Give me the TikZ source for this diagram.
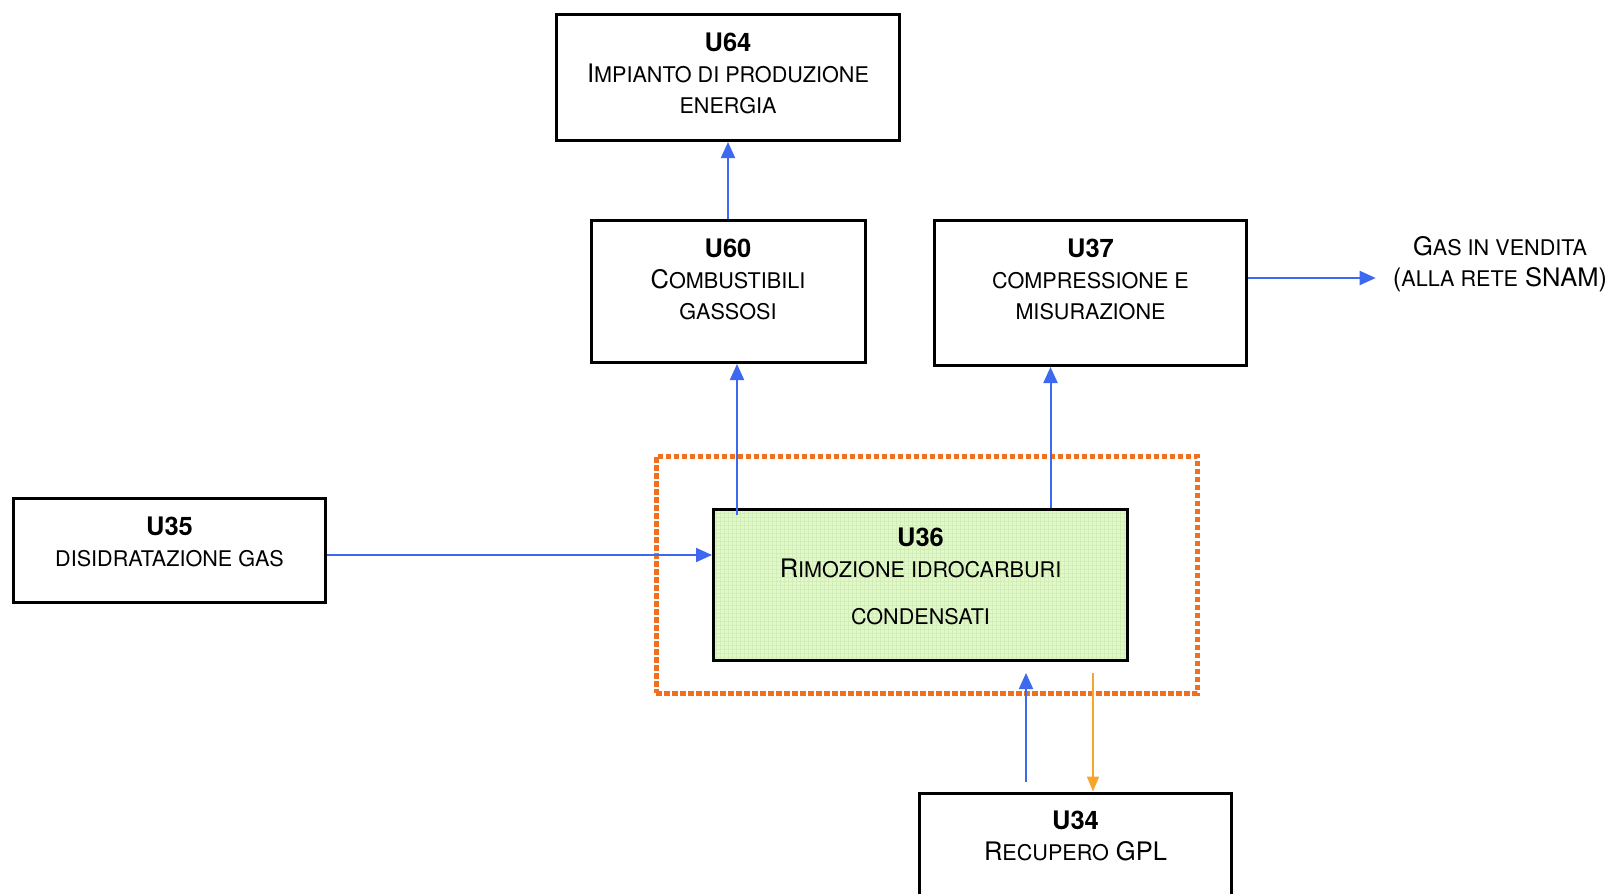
\documentclass[tikz,border=0pt]{standalone}
\usepackage{fontspec}
\setmainfont{TeX Gyre Heros}
\usetikzlibrary{arrows.meta,calc}

\definecolor{flowblue}{RGB}{61,104,240}
\definecolor{dotorange}{RGB}{238,112,32}
\definecolor{gplorange}{RGB}{246,166,42}
\definecolor{areagreen}{RGB}{226,248,200}
\definecolor{areagrid}{RGB}{210,238,184}

% small capitals made from reduced upper case
\newcommand\scap[1]{{\fontsize{21.6}{31}\selectfont\MakeUppercase{#1}}}

\tikzset{
  unit/.style={draw, line width=3pt, inner sep=0pt},
  unittext/.style={anchor=north, inner sep=0pt, align=center,
    font=\fontsize{25.5}{31}\selectfont, yshift=-19.5pt},
  flow/.style={flowblue, line width=2pt, -{Triangle[length=16pt,width=14pt]}},
  gplflow/.style={gplorange, line width=1.6pt, -{Triangle[length=15pt,width=12pt]}},
  dotbox/.style={draw=dotorange, line width=5pt, dash pattern=on 5.5pt off 2.5pt, inner sep=0pt},
}

\begin{document}
\begin{tikzpicture}[x=1pt,y=-1pt]
  \clip (0,0) rectangle (1612,894);

  % units
  \node[unit, minimum width=343pt, minimum height=126pt] (u64) at (728,77.5) {};
  \node[unit, minimum width=274pt, minimum height=142pt] (u60) at (728,291.5) {};
  \node[unit, minimum width=312pt, minimum height=145pt] (u37) at (1090.5,293) {};
  \node[unit, minimum width=312pt, minimum height=104pt] (u35) at (169.5,550.5) {};
  \node[dotbox, minimum width=541pt, minimum height=237pt] (area) at (926.5,574.5) {};
  \node[unit, fill=areagreen, minimum width=414pt, minimum height=151pt,
    path picture={\draw[areagrid, line width=0.4pt, step=4pt]
      (path picture bounding box.south west) grid (path picture bounding box.north east);}]
    (u36) at (920.5,585) {};
  \node[unit, minimum width=312pt, minimum height=160pt] (u34) at (1075.5,873) {};

  \node[unittext] (u64txt) at (u64.north) {\textbf{U64}\\I\scap{mpianto di produzione}\\\scap{energia}};
  \node[unittext] (u60txt) at (u60.north) {\textbf{U60}\\C\scap{ombustibili}\\\scap{gassosi}};
  \node[unittext] (u37txt) at (u37.north) {\textbf{U37}\\\scap{compressione e}\\\scap{misurazione}};
  \node[unittext] (u35txt) at (u35.north) {\textbf{U35}\\\scap{disidratazione gas}};
  \node[unittext] (u36txt) at (u36.north) {\textbf{U36}\\R\scap{imozione idrocarburi}\\[16pt]\scap{condensati}};
  \node[unittext] (u34txt) at (u34.north) {\textbf{U34}\\R\scap{ecupero} GPL};
  \node[unittext, yshift=19.5pt] (gas) at (1500,236) {G\scap{as in vendita}\\(\scap{alla rete} SNAM)};

  % flows
  \draw[flow] (u60.north) -- (u64.south);
  \draw[flow] ($(u36.north west)+(25,7)$) -- ($(u36.north west |- u60.south)+(25,0)$);
  \draw[flow] ($(u37.south |- u36.north)+(-40,0)$) -- ($(u37.south)+(-40,0)$);
  \draw[flow] ($(u35.east)+(0,4.5)$) -- ($(u35.east -| u36.west)+(0,4.5)$);
  \draw[flow] ($(u37.east)+(0,-15)$) -- ($(u37.east -| gas.west)+(-17,-15)$);
  \draw[flow] ($(u34.north)+(-49.5,-10)$) -- ($(u34.north |- u36.south)+(-49.5,11)$);
  \draw[gplflow] ($(u34.north |- u36.south)+(17.5,11)$) -- ($(u34.north)+(17.5,0)$);
\end{tikzpicture}
\end{document}
